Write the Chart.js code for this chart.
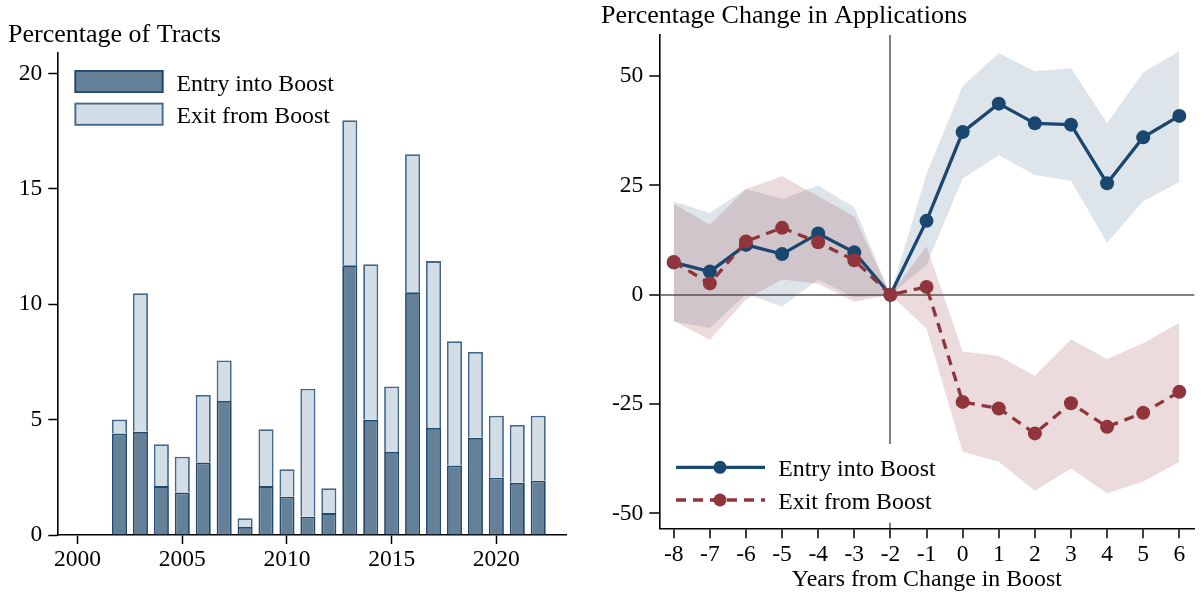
<!DOCTYPE html>
<html><head><meta charset="utf-8">
<script src="https://cdn.jsdelivr.net/npm/chart.js@4.4.1/dist/chart.umd.min.js"></script>
<style>
html,body{margin:0;padding:0;background:#fff;}
#wrap{position:relative;width:1204px;height:594px;overflow:hidden;}
#c1{position:absolute;left:0;top:0;}
#c2{position:absolute;left:600px;top:0;}
</style></head><body>
<div id="wrap">
<canvas id="c1" width="600" height="594"></canvas>
<canvas id="c2" width="604" height="594"></canvas>
</div>
<script>
// ---------- Left panel data ----------
const years = [2002,2003,2004,2005,2006,2007,2008,2009,2010,2011,2012,2013,2014,2015,2016,2017,2018,2019,2020,2021,2022];
const entryShare = [4.40,4.47,2.12,1.84,3.14,5.81,0.35,2.12,1.66,0.79,0.95,11.69,4.99,3.60,10.52,4.64,3.01,4.21,2.48,2.26,2.35];
const exitShare  = [0.60,6.01,1.81,1.55,2.93,1.75,0.38,2.46,1.19,5.55,1.08,6.28,6.74,2.84,5.98,7.23,5.39,3.72,2.69,2.51,2.82];
const yearTicks = [2000,2005,2010,2015,2020];
const shareTicks = [0,5,10,15,20];

// ---------- Right panel data ----------
const eventTime = [-8,-7,-6,-5,-4,-3,-2,-1,0,1,2,3,4,5,6];
const entryEst = [7.4,5.3,11.4,9.3,14.0,9.7,0,16.9,37.2,43.7,39.2,38.9,25.5,36.0,40.9];
const entryHi  = [21.3,18.7,24.2,21.9,25.0,20.0,0,27.7,47.7,55.3,51.1,51.8,39.3,50.8,55.7];
const entryLo  = [-6.1,-7.6,0.2,-2.7,3.5,-0.6,0,6.8,26.6,31.9,27.4,26.1,11.9,21.4,25.8];
const exitEst  = [7.5,2.6,12.2,15.3,12.0,7.9,0,1.8,-24.5,-26.0,-31.7,-24.8,-30.2,-27.0,-22.2];
const exitHi   = [20.8,16.0,24.2,27.1,22.5,17.9,0,11.1,-13.0,-14.0,-18.5,-10.2,-14.7,-11.1,-6.4];
const exitLo   = [-6.0,-10.3,-1.0,3.5,2.5,-1.6,0,-7.7,-35.9,-38.2,-44.8,-39.7,-45.4,-42.7,-38.2];
const eventTicks = [-8,-7,-6,-5,-4,-3,-2,-1,0,1,2,3,4,5,6];
const changeTicks = [-50,-25,0,25,50];

const leftTitle = 'Percentage of Tracts';
const rightTitle = 'Percentage Change in Applications';
const rightXTitle = 'Years from Change in Boost';
const labelEntry = 'Entry into Boost';
const labelExit = 'Exit from Boost';

// ---------- styles ----------
const SERIF = "'Liberation Serif','Times New Roman',Times,serif";
const NAVY = 'rgb(26,71,111)';
const MAROON = 'rgb(144,53,59)';
const GRAYLINE = 'rgb(128,128,128)';
const TITLE_SIZE = 26;
const TEXT_SIZE = 23.8;
const TICK_SIZE = 23.5;
Chart.defaults.font.family = SERIF;
Chart.defaults.color = '#000';

const pairs = (xs, ys) => xs.map((x, i) => ({x: x, y: ys[i]}));

// ---------- Left chart ----------
const leftPlugin = {
  id: 'leftDecor',
  afterDraw(chart) {
    const ctx = chart.ctx;
    ctx.save();
    ctx.fillStyle = '#000';
    ctx.textAlign = 'left';
    ctx.textBaseline = 'alphabetic';
    ctx.font = TITLE_SIZE + 'px ' + SERIF;
    ctx.fillText(leftTitle, 8, 41.5);
    ctx.font = TEXT_SIZE + 'px ' + SERIF;
    // legend
    const rows = [{ds: chart.data.datasets[0], y: 70, base: 90.7}, {ds: chart.data.datasets[1], y: 102.7, base: 122.7}];
    rows.forEach(r => {
      ctx.fillStyle = r.ds.backgroundColor;
      ctx.fillRect(74.5, r.y, 89, 23);
      ctx.strokeStyle = r.ds.borderColor;
      ctx.lineWidth = 1.8;
      ctx.strokeRect(75.4, r.y + 0.9, 87.2, 21.2);
      ctx.fillStyle = '#000';
      ctx.fillText(r.ds.label, 176.5, r.base);
    });
    ctx.restore();
  }
};

new Chart(document.getElementById('c1'), {
  type: 'bar',
  data: {
    datasets: [
      {label: labelEntry, data: pairs(years, entryShare), stack: 'tracts',
       backgroundColor: 'rgb(101,129,151)', borderColor: 'rgb(33,72,110)', borderWidth: 1.8,
       barPercentage: 0.72, categoryPercentage: 1},
      {label: labelExit, data: pairs(years, exitShare), stack: 'tracts',
       backgroundColor: 'rgb(211,221,229)', borderColor: 'rgb(66,104,140)', borderWidth: 1.8,
       barPercentage: 0.72, categoryPercentage: 1}
    ]
  },
  options: {
    responsive: false, animation: false, devicePixelRatio: 1,
    layout: {padding: {top: 52.7, right: 33.3, left: 0, bottom: 0}},
    plugins: {legend: {display: false}, tooltip: {enabled: false}},
    scales: {
      x: {
        type: 'linear', min: 1999.03, max: 2023.36, offset: false,
        afterBuildTicks: s => { s.ticks = yearTicks.map(v => ({value: v})); },
        afterFit: s => { s.height = 59; },
        ticks: {padding: 4.3, font: {size: TICK_SIZE, lineHeight: 1}, color: '#000', callback: v => String(v), maxRotation: 0, autoSkip: false},
        grid: {display: true, offset: false, drawOnChartArea: false, drawTicks: true, tickLength: 9, tickColor: '#000', tickWidth: 1.5},
        border: {display: true, color: '#000', width: 1.6}
      },
      y: {
        type: 'linear', min: 0, max: 20.9,
        afterBuildTicks: s => { s.ticks = shareTicks.map(v => ({value: v})); },
        afterFit: s => { s.width = 57.3; },
        ticks: {padding: 6, font: {size: TICK_SIZE, lineHeight: 1}, color: '#000', callback: v => String(v)},
        grid: {display: true, drawOnChartArea: false, drawTicks: true, tickLength: 9, tickColor: '#000', tickWidth: 1.5},
        border: {display: true, color: '#000', width: 1.6}
      }
    }
  },
  plugins: [leftPlugin]
});

// ---------- Right chart ----------
const rightPlugin = {
  id: 'rightDecor',
  afterDraw(chart) {
    const ctx = chart.ctx;
    const a = chart.chartArea;
    ctx.save();
    ctx.fillStyle = '#000';
    ctx.textBaseline = 'alphabetic';
    ctx.textAlign = 'left';
    ctx.font = TITLE_SIZE + 'px ' + SERIF;
    ctx.fillText(rightTitle, 1, 23.3);
    ctx.font = TEXT_SIZE + 'px ' + SERIF;
    ctx.textAlign = 'center';
    ctx.fillText(rightXTitle, (a.left + a.right) / 2, 586);
    // legend
    ctx.fillStyle = '#fff';
    ctx.fillRect(64, 444, 282, 78.5);
    const rows = [{ds: chart.data.datasets[1], y: 467.3, base: 476}, {ds: chart.data.datasets[0], y: 500, base: 508.5}];
    rows.forEach(r => {
      ctx.strokeStyle = r.ds.borderColor;
      ctx.lineWidth = r.ds.borderWidth;
      ctx.setLineDash(r.ds.borderDash || []);
      ctx.beginPath();
      ctx.moveTo(76, r.y);
      ctx.lineTo(165, r.y);
      ctx.stroke();
      ctx.setLineDash([]);
      ctx.fillStyle = r.ds.pointBackgroundColor;
      ctx.beginPath();
      ctx.arc(120, r.y, 6.5, 0, Math.PI * 2);
      ctx.fill();
      ctx.fillStyle = '#000';
      ctx.textAlign = 'left';
      ctx.fillText(r.ds.label, 178.3, r.base);
    });
    ctx.restore();
  }
};

const lineStyle = (color, dash) => ({
  borderColor: color, backgroundColor: color, pointBackgroundColor: color,
  borderWidth: 3.3, borderDash: dash, pointRadius: 7, pointBorderWidth: 0,
  pointHoverRadius: 7, tension: 0, fill: false
});
const bandEdge = (fill, color) => ({
  borderWidth: 0, borderColor: 'rgba(0,0,0,0)', pointRadius: 0, pointHoverRadius: 0,
  backgroundColor: color, fill: fill, tension: 0
});

new Chart(document.getElementById('c2'), {
  type: 'line',
  data: {
    datasets: [
      Object.assign({label: labelExit, data: pairs(eventTime, exitEst)}, lineStyle(MAROON, [10, 7])),
      Object.assign({label: labelEntry, data: pairs(eventTime, entryEst)}, lineStyle(NAVY, [])),
      Object.assign({label: 'Exit upper', data: pairs(eventTime, exitHi)}, bandEdge('+1', 'rgba(144,53,59,0.18)')),
      Object.assign({label: 'Exit lower', data: pairs(eventTime, exitLo)}, bandEdge(false, 'rgba(0,0,0,0)')),
      Object.assign({label: 'Entry upper', data: pairs(eventTime, entryHi)}, bandEdge('+1', 'rgba(26,71,111,0.15)')),
      Object.assign({label: 'Entry lower', data: pairs(eventTime, entryLo)}, bandEdge(false, 'rgba(0,0,0,0)'))
    ]
  },
  options: {
    responsive: false, animation: false, devicePixelRatio: 1,
    layout: {padding: {top: 35, right: 9.7, left: 0, bottom: 0}},
    plugins: {legend: {display: false}, tooltip: {enabled: false}, filler: {propagate: false}},
    scales: {
      x: {
        type: 'linear', min: -8.4, max: 6.415, offset: false,
        afterBuildTicks: s => { s.ticks = eventTicks.map(v => ({value: v})); },
        afterFit: s => { s.height = 65.7; },
        ticks: {padding: 5, font: {size: TICK_SIZE, lineHeight: 1}, color: '#000', callback: v => String(v), maxRotation: 0, autoSkip: false},
        grid: {display: true, offset: false, drawOnChartArea: true, drawTicks: true, tickLength: 10, tickColor: '#000', tickWidth: 1.5,
               color: c => (c.tick && c.tick.value === -2) ? GRAYLINE : 'rgba(0,0,0,0)', lineWidth: 2},
        border: {display: true, color: '#000', width: 1.6}
      },
      y: {
        type: 'linear', min: -53.4, max: 59.4,
        afterBuildTicks: s => { s.ticks = changeTicks.map(v => ({value: v})); },
        afterFit: s => { s.width = 59.3; },
        ticks: {padding: 6, font: {size: TICK_SIZE, lineHeight: 1}, color: '#000', callback: v => String(v)},
        grid: {display: true, drawOnChartArea: true, drawTicks: true, tickLength: 10, tickColor: '#000', tickWidth: 1.5,
               color: c => (c.tick && c.tick.value === 0) ? GRAYLINE : 'rgba(0,0,0,0)', lineWidth: 2},
        border: {display: true, color: '#000', width: 1.6}
      }
    }
  },
  plugins: [rightPlugin]
});
</script>
</body></html>
